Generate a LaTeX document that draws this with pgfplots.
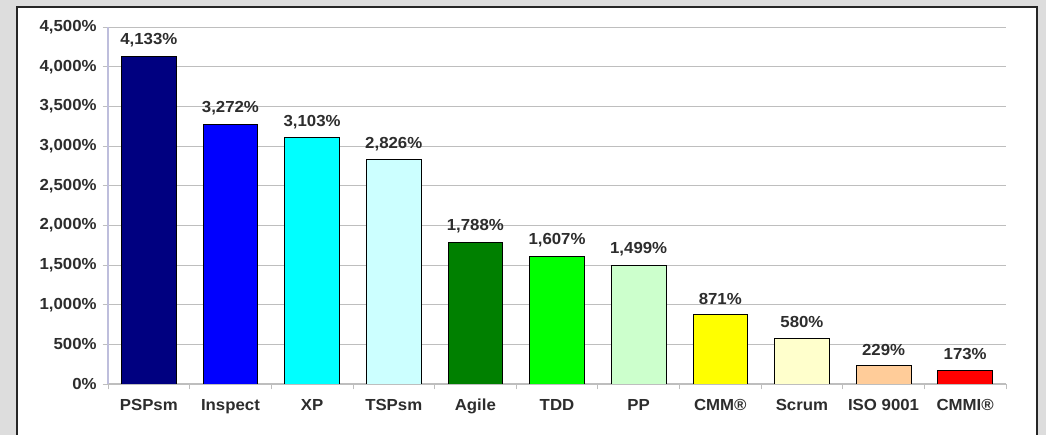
\documentclass[border=0pt]{standalone}
\usepackage{pgfplots}
\pgfplotsset{compat=1.18}
\usepackage{fontspec}
\setmainfont{Liberation Sans}[FakeStretch=1.05]
\definecolor{c1}{HTML}{000080}
\definecolor{c2}{HTML}{0000FF}
\definecolor{c3}{HTML}{00FFFF}
\definecolor{c4}{HTML}{CCFFFF}
\definecolor{c5}{HTML}{008000}
\definecolor{c6}{HTML}{00FF00}
\definecolor{c7}{HTML}{CCFFCC}
\definecolor{c8}{HTML}{FFFF00}
\definecolor{c9}{HTML}{FFFFCC}
\definecolor{c10}{HTML}{FFCC99}
\definecolor{c11}{HTML}{FF0000}
\definecolor{bg}{RGB}{221,221,221}
\definecolor{gridc}{RGB}{190,190,190}
\definecolor{axc}{RGB}{190,190,220}
\definecolor{txt}{RGB}{45,45,45}
\begin{document}
\begin{tikzpicture}
\path[use as bounding box] (0,0) rectangle (784.5pt,326.25pt);
\fill[bg] (0,0) rectangle (784.5pt,326.25pt);
\fill[white] (12.75pt,0) rectangle (777.75pt,321pt);
\draw[line width=1.2pt, black!85] (12.75pt,-2pt)--(12.75pt,321pt)--(777.75pt,321pt)--(777.75pt,-2pt);
\begin{axis}[
  at={(81pt,38.25pt)}, anchor=south west, scale only axis,
  width=673.5pt, height=267.75pt,
  ymin=0, ymax=4500, xmin=-0.5, xmax=10.5,
  ybar, bar width=0.67, bar shift=0pt,
  axis x line*=bottom, axis y line*=left,
  x axis line style={gridc, line width=0.8pt},
  y axis line style={axc, line width=0.8pt},
  ytick={0,500,...,4500},
  xtick={0,...,10},
  xticklabels={PSPsm,Inspect,XP,TSPsm,Agile,TDD,PP,CMM®,Scrum,ISO 9001,CMMI®},
  minor xtick={-0.5,0.5,...,10.5},
  major x tick style={draw=none},
  minor x tick style={gridc, line width=0.6pt},
  major y tick style={gridc, line width=0.6pt},
  tick align=outside,
  major tick length=4pt, minor tick length=4pt,
  ymajorgrids, grid style={gridc, line width=0.6pt},
  yticklabel={\pgfmathprintnumber[assume math mode=true,1000 sep={,}]{\tick}\%},
  ticklabel style={font=\bfseries\fontsize{12}{14}\selectfont, text=txt},
  xticklabel style={yshift=-4pt},
  yticklabel style={xshift=-1pt},
  nodes near coords={\pgfmathprintnumber[assume math mode=true,1000 sep={,}]{\pgfplotspointmeta}\%},
  nodes near coords style={font=\bfseries\fontsize{12}{14}\selectfont, text=txt, anchor=center, yshift=12pt},
  every axis plot/.append style={draw=black, line width=0.6pt},
]
\addplot[fill=c1] coordinates {(0,4133)};
\addplot[fill=c2] coordinates {(1,3272)};
\addplot[fill=c3] coordinates {(2,3103)};
\addplot[fill=c4] coordinates {(3,2826)};
\addplot[fill=c5] coordinates {(4,1788)};
\addplot[fill=c6] coordinates {(5,1607)};
\addplot[fill=c7] coordinates {(6,1499)};
\addplot[fill=c8] coordinates {(7,871)};
\addplot[fill=c9] coordinates {(8,580)};
\addplot[fill=c10] coordinates {(9,229)};
\addplot[fill=c11] coordinates {(10,173)};
\end{axis}
\end{tikzpicture}
\end{document}
